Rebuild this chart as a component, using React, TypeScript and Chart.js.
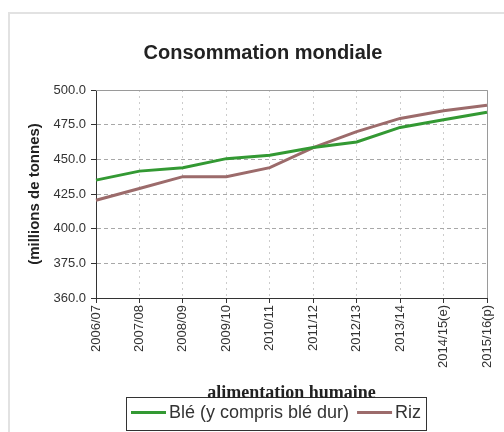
import React, { useEffect, useRef } from 'react';
import { Chart, registerables } from 'chart.js';

Chart.register(...registerables);

const categories = ['2006/07', '2007/08', '2008/09', '2009/10', '2010/11', '2011/12', '2012/13', '2013/14', '2014/15(e)', '2015/16(p)'];
const bleValues = [435, 441.5, 444, 450.5, 453, 458.5, 462.5, 473, 478.5, 484];
const rizValues = [420.5, 429, 437.5, 437.5, 444, 458.5, 470, 479.5, 485, 489];
const yTickLabels = ['360.0', '375.0', '400.0', '425.0', '450.0', '475.0', '500.0'];
const seriesNames = ['Blé (y compris blé dur)', 'Riz'];
const seriesColors = ['#339933', '#9c6b6b'];
const chartTitle = 'Consommation mondiale';
const yAxisTitle = '(millions de tonnes)';
const legendTitle = 'alimentation humaine';

const SANS = '"Liberation Sans", Arial, sans-serif';
const SERIF = '"Liberation Serif", "Times New Roman", serif';

const plotFrame = {
  id: 'plotFrame',
  beforeDatasetsDraw(chart: any) {
    const { ctx, chartArea } = chart;
    const { left, top, right, bottom } = chartArea;
    ctx.save();
    ctx.strokeStyle = '#9a9a9a';
    ctx.lineWidth = 1;
    ctx.beginPath();
    ctx.moveTo(Math.round(left), Math.round(top) + 0.5);
    ctx.lineTo(Math.round(right) + 0.5, Math.round(top) + 0.5);
    ctx.lineTo(Math.round(right) + 0.5, Math.round(bottom));
    ctx.stroke();
    ctx.restore();
  },
};

const boxLegend = {
  id: 'boxLegend',
  afterDraw(chart: any) {
    const ctx = chart.ctx;
    const ca = chart.chartArea;
    const cx = (ca.left + ca.right) / 2;
    const boxBottom = chart.height - 4;
    const boxTop = boxBottom - 33;
    const lineLen = 35;
    const gapText = 3;
    const gapItem = 8;
    const pad = 5;
    ctx.save();
    ctx.font = `18px ${SANS}`;
    const items = chart.data.datasets.map((ds: any) => ({
      label: ds.label,
      color: ds.borderColor,
      w: ctx.measureText(ds.label).width,
    }));
    const total =
      items.reduce((s: number, it: any) => s + lineLen + gapText + it.w, 0) +
      gapItem * (items.length - 1) +
      pad * 2;
    const boxLeft = Math.round(cx - 15 - total / 2);
    ctx.fillStyle = '#ffffff';
    ctx.fillRect(boxLeft, boxTop, total, boxBottom - boxTop);
    ctx.strokeStyle = '#333333';
    ctx.lineWidth = 1;
    ctx.strokeRect(boxLeft + 0.5, Math.round(boxTop) + 0.5, Math.round(total), Math.round(boxBottom - boxTop));

    const cy = (boxTop + boxBottom) / 2 - 1;
    let x = boxLeft + pad;
    items.forEach((it: any) => {
      ctx.strokeStyle = it.color;
      ctx.lineWidth = 3;
      ctx.beginPath();
      ctx.moveTo(x, cy);
      ctx.lineTo(x + lineLen, cy);
      ctx.stroke();
      x += lineLen + gapText;
      ctx.fillStyle = '#333333';
      ctx.textAlign = 'left';
      ctx.textBaseline = 'middle';
      ctx.fillText(it.label, x, cy + 1);
      x += it.w + gapItem;
    });

    ctx.font = `bold 18px ${SERIF}`;
    ctx.fillStyle = '#222222';
    ctx.textAlign = 'center';
    ctx.textBaseline = 'alphabetic';
    ctx.fillText(legendTitle, cx, boxTop + 1);
    ctx.restore();
  },
};

export default function App() {
  const canvasRef = useRef<HTMLCanvasElement | null>(null);

  useEffect(() => {
    if (!canvasRef.current) return;
    const chart = new Chart(canvasRef.current, {
      type: 'line',
      data: {
        labels: categories,
        datasets: [
          {
            label: seriesNames[0],
            data: bleValues,
            borderColor: seriesColors[0],
            backgroundColor: seriesColors[0],
            borderWidth: 3,
            pointRadius: 0,
            tension: 0,
          },
          {
            label: seriesNames[1],
            data: rizValues,
            borderColor: seriesColors[1],
            backgroundColor: seriesColors[1],
            borderWidth: 3,
            pointRadius: 0,
            tension: 0,
          },
        ],
      },
      options: {
        animation: false,
        responsive: false,
        maintainAspectRatio: false,
        layout: { padding: { left: 0, right: 0, top: 0, bottom: 56 } },
        plugins: {
          legend: { display: false },
          tooltip: { enabled: false },
          title: {
            display: true,
            text: chartTitle,
            color: '#222222',
            font: { family: SANS, size: 20, weight: 'bold' },
            padding: { top: 27, bottom: 25 },
          },
        },
        scales: {
          x: {
            type: 'category',
            offset: false,
            grid: { color: '#cccccc', tickColor: '#333333', tickLength: 5 },
            border: { color: '#333333', dash: [2, 4] },
            ticks: {
              minRotation: 90,
              maxRotation: 90,
              autoSkip: false,
              color: '#333333',
              padding: 2,
              font: { family: SANS, size: 13 },
            },
            afterFit: (s: any) => {
              s.height = 80;
            },
          },
          y: {
            min: 350,
            max: 500,
            ticks: {
              stepSize: 25,
              color: '#333333',
              padding: 5,
              font: { family: SANS, size: 13 },
              callback: (_v: any, i: number) => yTickLabels[i],
            },
            grid: { color: '#a8a8a8', tickColor: '#333333', tickLength: 5 },
            border: { color: '#333333', dash: [4, 3] },
            title: {
              display: true,
              text: yAxisTitle,
              color: '#222222',
              font: { family: SANS, size: 15, weight: 'bold' },
              padding: { top: 16, bottom: 0 },
            },
            afterFit: (s: any) => {
              s.width = 86;
            },
          },
          yRight: {
            position: 'right',
            min: 350,
            max: 500,
            ticks: { display: false },
            grid: { display: false, drawTicks: false },
            border: { display: false },
            afterFit: (s: any) => {
              s.width = 29;
            },
          },
        },
      } as any,
      plugins: [plotFrame, boxLegend],
    });
    return () => chart.destroy();
  }, []);

  return (
    <div style={{ position: 'fixed', left: 0, top: 0, width: 504, height: 432, overflow: 'hidden', background: '#ffffff' }}>
      <div
        style={{
          position: 'absolute',
          left: 8,
          top: 12,
          width: 506,
          height: 440,
          border: '2px solid #e2e2e2',
          background: '#ffffff',
        }}
      >
        <canvas ref={canvasRef} width={506} height={420} style={{ display: 'block' }} />
      </div>
    </div>
  );
}
